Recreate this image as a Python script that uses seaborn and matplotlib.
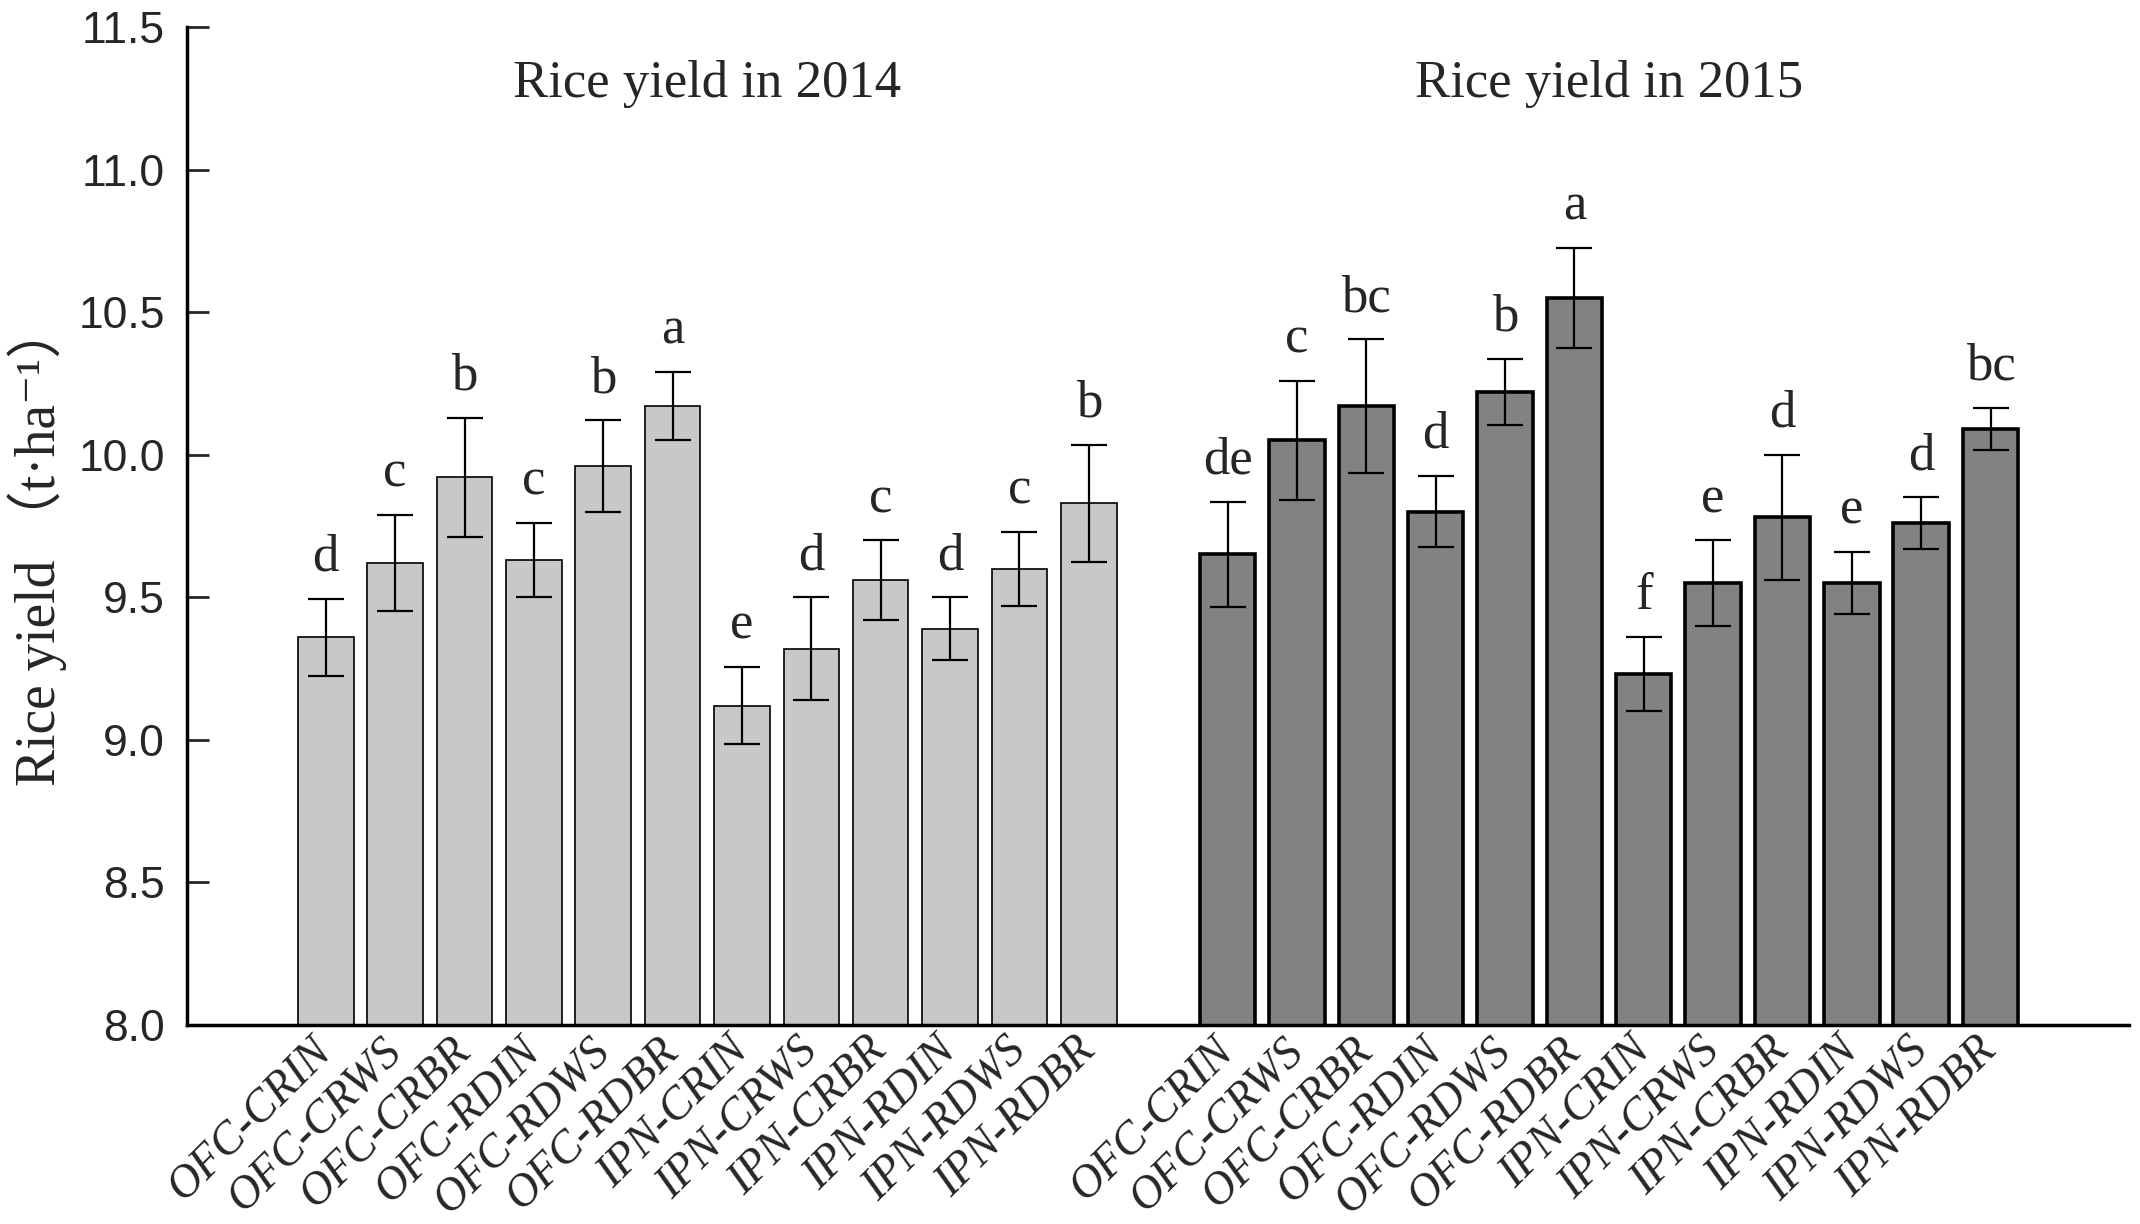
import numpy as np
import pandas as pd
import matplotlib
matplotlib.use("Agg")
import matplotlib.pyplot as plt
import seaborn as sns

# ---------------- data ----------------
treatments = ["OFC-CRIN", "OFC-CRWS", "OFC-CRBR", "OFC-RDIN", "OFC-RDWS", "OFC-RDBR",
              "IPN-CRIN", "IPN-CRWS", "IPN-CRBR", "IPN-RDIN", "IPN-RDWS", "IPN-RDBR"]
yield_2014 = [9.36, 9.62, 9.92, 9.63, 9.96, 10.17, 9.12, 9.32, 9.56, 9.39, 9.60, 9.83]
err_2014 = [0.135, 0.17, 0.21, 0.13, 0.16, 0.12, 0.135, 0.18, 0.14, 0.11, 0.13, 0.205]
letters_2014 = ["d", "c", "b", "c", "b", "a", "e", "d", "c", "d", "c", "b"]
yield_2015 = [9.65, 10.05, 10.17, 9.80, 10.22, 10.55, 9.23, 9.55, 9.78, 9.55, 9.76, 10.09]
err_2015 = [0.185, 0.21, 0.235, 0.125, 0.116, 0.175, 0.13, 0.15, 0.22, 0.11, 0.09, 0.075]
letters_2015 = ["de", "c", "bc", "d", "b", "a", "f", "e", "d", "e", "d", "bc"]
titles = ["Rice yield in 2014", "Rice yield in 2015"]
yticks = [8.0, 8.5, 9.0, 9.5, 10.0, 10.5, 11.0, 11.5]

# ---------------- build table ----------------
n = len(treatments)
pos14 = np.arange(n)
pos15 = np.arange(n) + n + 1
df14 = pd.DataFrame({"pos": pos14, "yield": yield_2014, "err": err_2014,
                     "letter": letters_2014, "label": treatments})
df15 = pd.DataFrame({"pos": pos15, "yield": yield_2015, "err": err_2015,
                     "letter": letters_2015, "label": treatments})

sns.set_theme(style="white")
serif = ["Liberation Serif", "DejaVu Serif"]
plt.rcParams["font.family"] = serif

fig = plt.figure(figsize=(21.4, 12.24), dpi=100)
ax = fig.add_axes([0.0874, 0.1626, 0.9076, 0.8154])

sns.barplot(data=df14, x="pos", y="yield", native_scale=True, width=0.8,
            color="#c8c8c8", edgecolor="black", linewidth=1.2, errorbar=None,
            saturation=1, ax=ax)
sns.barplot(data=df15, x="pos", y="yield", native_scale=True, width=0.8,
            color="#828282", edgecolor="black", linewidth=2.6, errorbar=None,
            saturation=1, ax=ax)

for d in (df14, df15):
    ax.errorbar(d["pos"], d["yield"], yerr=d["err"], fmt="none", ecolor="black",
                elinewidth=1.6, capsize=13, capthick=1.6, zorder=5)
    for p, v, e, t in zip(d["pos"], d["yield"], d["err"], d["letter"]):
        ax.text(p, v + e + 0.06, t, ha="center", va="bottom", fontsize=38,
                family=serif)

for d, title in zip((df14, df15), titles):
    ax.text(d["pos"].mean(), 11.30, title, ha="center", va="center", fontsize=38,
            family=serif)

ax.set_ylim(8.0, 11.5)
ax.set_xlim(-2, 2 * n + 2)
ax.set_yticks(yticks)
ax.set_yticklabels([f"{t:.1f}" for t in yticks],
                   family=["Liberation Sans", "DejaVu Sans"], fontsize=32)
allpos = list(pos14) + list(pos15)
ax.set_xticks(allpos)
ax.set_xticklabels(treatments + treatments, rotation=45, ha="right", va="center",
                   rotation_mode="anchor", fontsize=33, style="italic",
                   family=serif)
ax.tick_params(axis="y", direction="in", length=16, width=2, pad=16, left=True)
ax.tick_params(axis="x", length=0, pad=14)

ax.set_xlabel("")
ax.set_ylabel("Rice yield （t·ha⁻¹）", fontsize=40, fontweight="normal",
              family=["Liberation Serif", "Noto Sans CJK SC", "DejaVu Serif"])
ax.yaxis.set_label_coords(-0.062, 0.482)

for s in ["top", "right"]:
    ax.spines[s].set_visible(False)
for s in ["left", "bottom"]:
    ax.spines[s].set_linewidth(2.5)
    ax.spines[s].set_color("black")
ax.grid(False)

fig.savefig("out.png", dpi=100, facecolor="white")
